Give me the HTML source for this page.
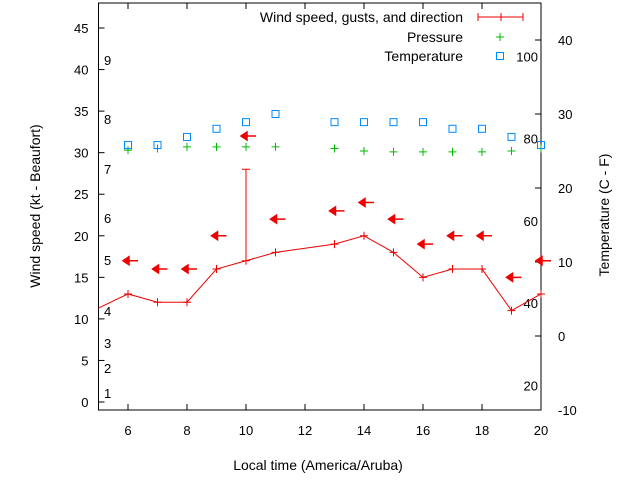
<!DOCTYPE html>
<html><head><meta charset="utf-8"><style>
body{margin:0;background:#fff}
svg{display:block;font-family:"Liberation Sans",sans-serif}
</style></head><body>
<svg id="c" width="640" height="480" xmlns="http://www.w3.org/2000/svg"></svg>
<script>
const hours=[6,7,8,9,10,11,13,14,15,16,17,18,19,20];
const windSpeed=[13,12,12,16,17,18,19,20,18,15,16,16,11,13];
const windPrev={hour:5,value:11.3};
const gusts=[{hour:10,value:28}];
const arrowLevel=[17,16,16,20,32,22,23,24,22,19,20,20,15,17];
const pressure=[30.3,30.5,30.7,30.7,30.7,30.7,30.5,30.2,30.1,30.1,30.1,30.1,30.2,30.5];
const temperature=[25.8,25.8,26.9,28,28.9,30,28.9,28.9,28.9,28.9,28,28,26.9,25.8];
const xTicks=[6,8,10,12,14,16,18,20];
const yTicks=[0,5,10,15,20,25,30,35,40,45];
const tTicks=[-10,0,10,20,30,40];
const beaufort=[[1,393],[2,368],[3,343],[4,311],[5,260],[6,218],[7,169],[8,119],[9,60]];
const fahr=[20,40,60,80,100];

const L=98.5,R=541,T=3,B=410;
const X=h=>L+(h-5)*(R-L)/15;
const Y=v=>402-v*8.311;
const YT=c=>336-c*7.4;
const svg=document.getElementById('c');
const NS='http://www.w3.org/2000/svg';
function el(tag,a,name,txt){const e=document.createElementNS(NS,tag);for(const k in a)e.setAttribute(k,a[k]);


if(txt!==undefined)e.textContent=txt;svg.appendChild(e);return e;}

el('rect',{x:L,y:T,width:R-L,height:B-T,fill:'none',stroke:'#000'},'plot-frame');
xTicks.forEach(h=>{const x=X(h);
el('line',{x1:x,y1:B,x2:x,y2:B-6,stroke:'#000'},'x-tick');
el('line',{x1:x,y1:T,x2:x,y2:T+6,stroke:'#000'},'x-tick-top');
el('text',{x:x,y:B+25,'font-size':13,'text-anchor':'middle'},'x-tick-label',h);});
yTicks.forEach(v=>{const y=Y(v);
el('line',{x1:L,y1:y,x2:L+6,y2:y,stroke:'#000'},'y-tick');
el('text',{x:L-10,y:y+5,'font-size':13,'text-anchor':'end'},'y-tick-label',v);});
tTicks.forEach(c=>{const y=YT(c);
el('line',{x1:R,y1:y,x2:R-6,y2:y,stroke:'#000'},'temp-tick');
el('text',{x:R+17,y:y+5,'font-size':13},'temp-tick-label',c);});
beaufort.forEach(b=>{el('text',{x:104,y:b[1]+5,'font-size':13},'beaufort-label',b[0]);});
fahr.forEach(f=>{const y=YT((f-32)*5/9);
el('text',{x:538,y:y+5,'font-size':13,'text-anchor':'end'},'fahrenheit-label',f);});

el('text',{x:318,y:470,'font-size':14,'text-anchor':'middle'},'x-axis-title','Local time (America/Aruba)');
el('text',{x:40,y:206,'font-size':14,'text-anchor':'middle',transform:'rotate(-90 40 206)'},'y-axis-title','Wind speed (kt - Beaufort)');
el('text',{x:609,y:215,'font-size':14,'text-anchor':'middle',transform:'rotate(-90 609 215)'},'y2-axis-title','Temperature (C - F)');

// wind line
let pts=[[X(windPrev.hour),Y(windPrev.value)]].concat(hours.map((h,i)=>[X(h),Y(windSpeed[i])]));
el('polyline',{points:pts.map(p=>p.join(',')).join(' '),fill:'none',stroke:'#e00','stroke-width':1},'wind-line');
hours.forEach((h,i)=>{const x=X(h),y=Y(windSpeed[i]);
el('path',{d:`M${x-4},${y}H${x+4}M${x},${y-4}V${y+4}`,stroke:'#e00'},'wind-point');});
gusts.forEach(g=>{const x=X(g.hour),y=Y(g.value);
el('path',{d:`M${x},${Y(windSpeed[hours.indexOf(g.hour)])}V${y}M${x-4},${y}H${x+4}`,stroke:'#e00'},'gust-bar');});
// direction arrows
hours.forEach((h,i)=>{const x=X(h),y=Y(arrowLevel[i]);
el('path',{d:`M${x-5},${y}L${x+1},${y-4}L${x+1},${y+4}Z M${x},${y}H${x+10}`,fill:'#e00',stroke:'#e00','stroke-width':1.5},'wind-direction-arrow');});
// pressure
hours.forEach((h,i)=>{const x=X(h),y=Y(pressure[i]);
el('path',{d:`M${x-4},${y}H${x+4}M${x},${y-4}V${y+4}`,stroke:'#0b0'},'pressure-point');});
// temperature
hours.forEach((h,i)=>{const x=X(h),y=YT(temperature[i]);
el('rect',{x:x-3.5,y:y-3.5,width:7,height:7,fill:'none',stroke:'#08f'},'temperature-point');});

// legend
el('text',{x:463,y:22,'font-size':14,'text-anchor':'end'},'legend-wind-label','Wind speed, gusts, and direction');
el('path',{d:'M478,17H523M478,13V21M501,13V21M523,13V21',stroke:'#e00'},'legend-wind-sample');
el('text',{x:463,y:42,'font-size':14,'text-anchor':'end'},'legend-pressure-label','Pressure');
el('path',{d:'M496,37H504M500,33V41',stroke:'#0b0'},'legend-pressure-sample');
el('text',{x:463,y:61,'font-size':14,'text-anchor':'end'},'legend-temperature-label','Temperature');
el('rect',{x:496.5,y:52.5,width:7,height:7,fill:'none',stroke:'#08f'},'legend-temperature-sample');
</script>
</body></html>
